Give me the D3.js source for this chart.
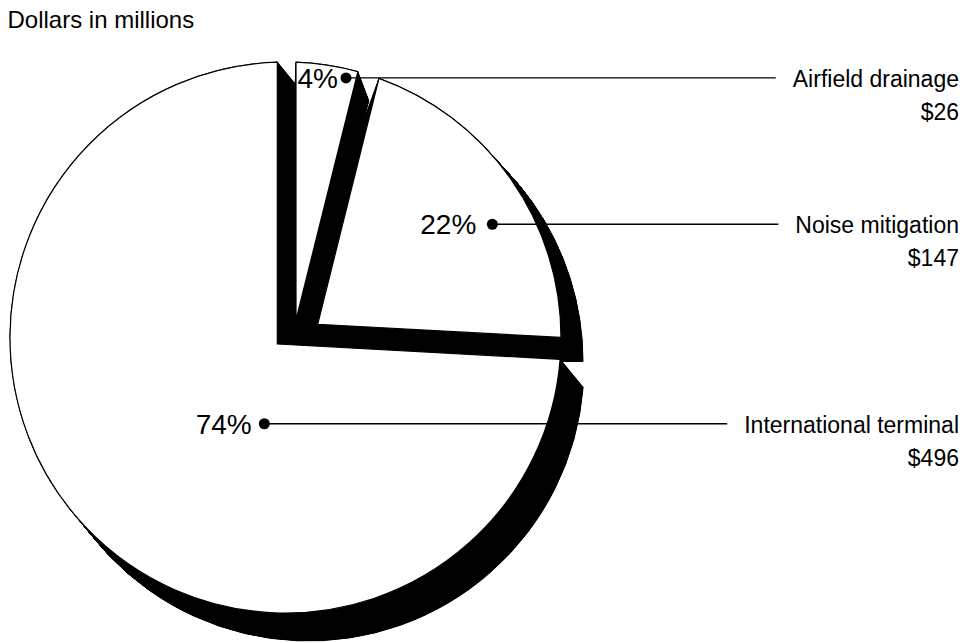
<!DOCTYPE html>
<html>
<head>
<meta charset="utf-8">
<script src="https://cdn.jsdelivr.net/npm/d3@7"></script>
<style>
  html, body { margin: 0; padding: 0; background: #fff; }
  svg { display: block; }
  text { font-family: "Liberation Sans", Arial, Helvetica, sans-serif; fill: #000; }
</style>
</head>
<body>
<svg id="chart" width="970" height="643"></svg>
<script>
// ---- data ----
const categories = ["Airfield drainage", "Noise mitigation", "International terminal"];
const values = [26, 147, 496];
const percentLabels = ["4%", "22%", "74%"];
const valueLabels = ["$26", "$147", "$496"];
const title = "Dollars in millions";

// ---- layout / style ----
const center = { x: 285.5, y: 337.5 };
const radius = 275.5;
// per-slice apex offsets (explode) and shadow extrusion vectors
const explode = [[10.5, -17.5], [32.2, -13.2], [-8.2, 6.5]];
const shadow = [[11, 29], [22, 24], [23, 28]];
// label anchor (dot) placement: polar from center [angle deg clockwise from 12 o'clock, distance]
const anchors = [[13.12, 266.5], [61.3, 235.8], [193.8, 88.8]];
const pctGap = [8, 16, 12.6];
const labelRight = 959;
const labelFont = 23, pctFont = 28, titleFont = 24;

const svg = d3.select("#chart");

const pie = d3.pie().sort(null).value(d => d);
const arcsData = pie(values);

// arc end points: edges from the exploded apex meet the common circle
function endPoints(d, i) {
  const A = { x: center.x + explode[i][0], y: center.y + explode[i][1] };
  function hit(angle) {
    const u = { x: Math.sin(angle), y: -Math.cos(angle) };
    const w = { x: A.x - center.x, y: A.y - center.y };
    const b = w.x * u.x + w.y * u.y;
    const c = w.x * w.x + w.y * w.y - radius * radius;
    const t = -b + Math.sqrt(b * b - c);
    return { x: A.x + t * u.x, y: A.y + t * u.y };
  }
  return { A, P0: hit(d.startAngle), P1: hit(d.endAngle) };
}

function slicePath(d, i, off, useCenterApex) {
  const e = endPoints(d, i);
  const apex = useCenterApex ? center : e.A;
  const ox = off[0], oy = off[1];
  const a0 = Math.atan2(e.P0.y - center.y, e.P0.x - center.x);
  const a1 = Math.atan2(e.P1.y - center.y, e.P1.x - center.x);
  const p = d3.path();
  p.moveTo(apex.x + ox, apex.y + oy);
  p.lineTo(e.P0.x + ox, e.P0.y + oy);
  p.arc(center.x + ox, center.y + oy, radius, a0, a1, false);
  p.closePath();
  return p.toString();
}

// shadows (extruded depth)
const gShadow = svg.append("g");
arcsData.forEach((d, i) => {
  const steps = 60;
  const offs = d3.range(steps + 1).map(k => [shadow[i][0] * k / steps, shadow[i][1] * k / steps]);
  gShadow.selectAll(null).data(offs).enter().append("path")
    .attr("d", o => slicePath(d, i, o, true))
    .attr("fill", "#000")
    .attr("stroke", "#000")
    .attr("stroke-width", 1);
});

// slices
svg.append("g").selectAll("path").data(arcsData).enter().append("path")
  .attr("d", (d, i) => slicePath(d, i, [0, 0], false))
  .attr("fill", "#fff")
  .attr("stroke", "#000")
  .attr("stroke-width", 1.2)
  .attr("stroke-linejoin", "miter");

// title
svg.append("text").attr("x", 7.5).attr("y", 28).attr("font-size", titleFont).text(title);

// labels
arcsData.forEach((d, i) => {
  const ang = anchors[i][0] * Math.PI / 180, r = anchors[i][1];
  const ax = center.x + r * Math.sin(ang), ay = center.y - r * Math.cos(ang);
  const g = svg.append("g");
  const t1 = g.append("text").attr("x", labelRight).attr("y", ay + 9)
    .attr("text-anchor", "end").attr("font-size", labelFont).text(categories[i]);
  g.append("text").attr("x", labelRight).attr("y", ay + 42)
    .attr("text-anchor", "end").attr("font-size", labelFont).text(valueLabels[i]);
  const tw = t1.node().getComputedTextLength();
  g.append("line").attr("x1", ax).attr("y1", ay).attr("x2", labelRight - tw - 17).attr("y2", ay)
    .attr("stroke", "#000").attr("stroke-width", 1.3);
  g.append("circle").attr("cx", ax).attr("cy", ay).attr("r", 5.5).attr("fill", "#000");
  g.append("text").attr("x", ax - pctGap[i]).attr("y", ay + 10)
    .attr("text-anchor", "end").attr("font-size", pctFont).text(percentLabels[i]);
});
</script>
</body>
</html>
